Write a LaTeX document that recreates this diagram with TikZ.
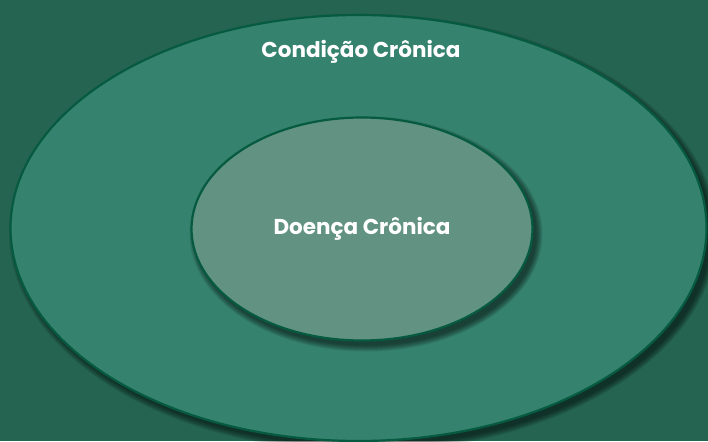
\documentclass[tikz,border=0pt]{standalone}
\usepackage{fontspec}
\setmainfont{Poppins}
\usetikzlibrary{shapes.geometric}
\definecolor{bgGreen}{HTML}{246450}
\definecolor{outerGreen}{HTML}{35826E}
\definecolor{innerGreen}{HTML}{629281}
\definecolor{edgeGreen}{HTML}{065A40}
\begin{document}
\begin{tikzpicture}[x=1pt, y=-1pt,
    ring/.style={ellipse, draw=edgeGreen, line width=2.2pt, inner sep=0pt},
    halo/.style={ellipse, fill=black, fill opacity=0.09, inner sep=0pt},
    lbl/.style={text=white, font=\bfseries\fontsize{21.5}{24}\selectfont}]
  \fill[bgGreen] (0,0) rectangle (708,441);
  \useasboundingbox (0,0) rectangle (708,441);
  % soft shadows
  \foreach \s in {0,2,...,12} {
    \node[halo, minimum width=696pt+\s pt, minimum height=426pt+\s pt] at (363,233) {};
  }
  % outer ring
  \node(condicao) [ring, fill=outerGreen, minimum width=696pt, minimum height=426pt] at (358.5,228) {};
  \foreach \s in {0,2,...,12} {
    \node[halo, minimum width=341pt+\s pt, minimum height=223pt+\s pt] at (366,234) {};
  }
  % inner ring
  \node(doenca) [ring, fill=innerGreen, minimum width=341pt, minimum height=223pt] at (362,229) {};
  \node(condicaolbl) [lbl] at (361,52) {Condição Crônica};
  \node(doencalbl) [lbl] at (doenca.center) {Doença Crônica};
\end{tikzpicture}
\end{document}
